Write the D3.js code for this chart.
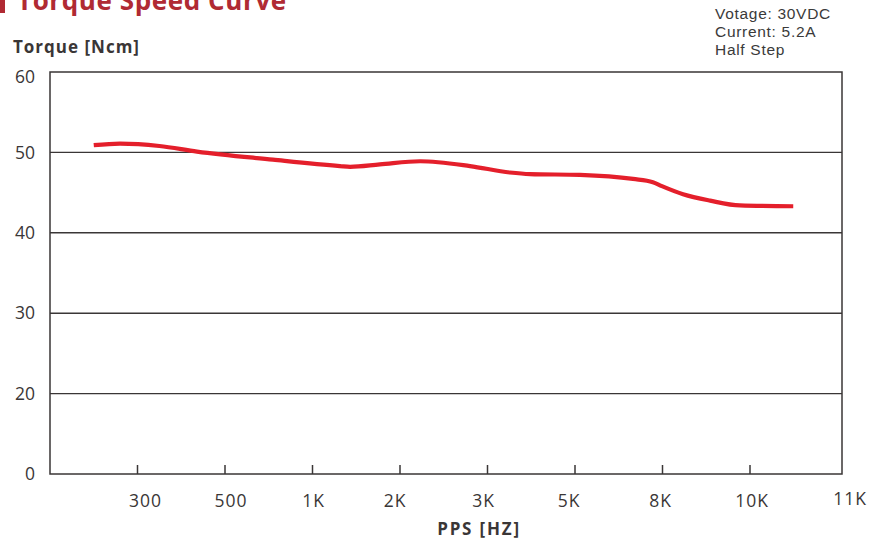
<!DOCTYPE html>
<html>
<head>
<meta charset="utf-8">
<script src="https://cdn.jsdelivr.net/npm/d3@7"></script>
<style>
  html, body { margin: 0; padding: 0; background: #fff; }
  svg { display: block; }
</style>
</head>
<body>
<div id="chart"></div>
<script>
// Torque vs. pulse rate for the stepper motor (30 VDC, 5.2 A, half step)
const ppsTicks = [100, 300, 500, 1000, 2000, 3000, 5000, 8000, 10000, 11000];
const ppsLabels = ["", "300", "500", "1K", "2K", "3K", "5K", "8K", "10K", "11K"];
const torqueTicks = [0, 20, 30, 40, 50, 60];

const curvePps = [200, 260, 350, 436, 774, 1314, 1430, 1770, 2230, 2800, 3510, 3970, 5170, 6990, 7670, 7980, 8470, 9090, 9770, 10470];
const curveTorque = [50.9, 51.1, 50.8, 50.1, 49.1, 48.3, 48.2, 48.5, 48.9, 48.3, 47.5, 47.3, 47.2, 46.7, 46.3, 45.8, 44.8, 44.0, 43.4, 43.3];

const conditions = ["Votage: 30VDC", "Current: 5.2A", "Half Step"];

const width = 884, height = 539;
const plot = { left: 50, right: 842, top: 72, bottom: 474 };
const step = 87.5;

const svg = d3.select("#chart").append("svg")
  .attr("width", width).attr("height", height);

// Log-like category axis: evenly spaced ticks, last one sits on the right frame
const xRange = ppsTicks.map((d, i) => i === ppsTicks.length - 1 ? plot.right : plot.left + i * step);
const x = d3.scaleLinear().domain(ppsTicks).range(xRange);

// Torque axis: grid lines evenly spaced regardless of value
const yRange = torqueTicks.map((d, i) => plot.bottom - i * (plot.bottom - plot.top) / (torqueTicks.length - 1));
const y = d3.scaleLinear().domain(torqueTicks).range(yRange);

const ink = "#3a3636";

// Title (runs off the top edge of the page)
svg.append("rect").attr("x", 0).attr("y", 0).attr("width", 5).attr("height", 13).attr("fill", "#b02a33");
svg.append("text")
  .attr("x", 17).attr("y", 10)
  .attr("font-family", "'Open Sans', sans-serif").attr("font-weight", 700)
  .attr("font-size", 26).attr("letter-spacing", 0.6).attr("fill", "#b02a33")
  .text("Torque Speed  Curve");

// Operating conditions
svg.append("g").selectAll("text").data(conditions).join("text")
  .attr("x", 715).attr("y", (d, i) => 19 + i * 18)
  .attr("font-family", "'Liberation Sans', Arial, sans-serif")
  .attr("font-size", 15.5).attr("letter-spacing", 0.7).attr("fill", "#3a3a3a")
  .text(d => d);

// Axis titles
svg.append("text")
  .attr("x", 13).attr("y", 53)
  .attr("font-family", "'Open Sans', sans-serif").attr("font-weight", 700)
  .attr("font-size", 17).attr("letter-spacing", 1).attr("fill", ink)
  .text("Torque [Ncm]");

svg.append("text")
  .attr("x", 479).attr("y", 535).attr("text-anchor", "middle")
  .attr("font-family", "'Open Sans', sans-serif").attr("font-weight", 700)
  .attr("font-size", 17).attr("letter-spacing", 1.8).attr("fill", ink)
  .text("PPS [HZ]");

// Horizontal grid lines
svg.append("g").selectAll("line").data(torqueTicks.slice(1, -1)).join("line")
  .attr("x1", plot.left).attr("x2", plot.right)
  .attr("y1", d => y(d)).attr("y2", d => y(d))
  .attr("stroke", ink).attr("stroke-width", 1.4);

// Frame
svg.append("rect")
  .attr("x", plot.left).attr("y", plot.top)
  .attr("width", plot.right - plot.left).attr("height", plot.bottom - plot.top)
  .attr("fill", "none").attr("stroke", ink).attr("stroke-width", 1.5);

// Y tick labels
svg.append("g").selectAll("text").data(torqueTicks).join("text")
  .attr("x", 35).attr("y", d => y(d) + (d === 60 ? 5 : 0))
  .attr("dy", "0.35em").attr("text-anchor", "end")
  .attr("font-family", "'Open Sans', sans-serif")
  .attr("font-size", 17.5).attr("fill", ink)
  .text(d => d);

// X ticks (inside, upward) and labels
const tickData = ppsTicks.map((d, i) => ({ v: d, label: ppsLabels[i], i }));
svg.append("g").selectAll("line").data(tickData.filter(d => d.i > 0 && d.i < ppsTicks.length - 1)).join("line")
  .attr("x1", d => x(d.v)).attr("x2", d => x(d.v))
  .attr("y1", plot.bottom).attr("y2", plot.bottom - 9)
  .attr("stroke", ink).attr("stroke-width", 1.5);

const labelShift = [0, 8, 6, 1, -5, -4, -6, -2, 2, 8];
svg.append("g").selectAll("text").data(tickData.filter(d => d.label)).join("text")
  .attr("x", d => x(d.v) + labelShift[d.i])
  .attr("y", d => d.i === ppsTicks.length - 1 ? 505 : 507)
  .attr("text-anchor", "middle")
  .attr("font-family", "'Open Sans', sans-serif")
  .attr("font-size", 17.5).attr("letter-spacing", 1).attr("fill", ink)
  .text(d => d.label);

// Torque curve
const pts = curvePps.map((p, i) => [x(p), y(curveTorque[i])]);
svg.append("path")
  .attr("d", d3.line().curve(d3.curveMonotoneX)(pts))
  .attr("fill", "none").attr("stroke", "#e41f2b")
  .attr("stroke-width", 4.2).attr("stroke-linecap", "butt");
</script>
</body>
</html>
